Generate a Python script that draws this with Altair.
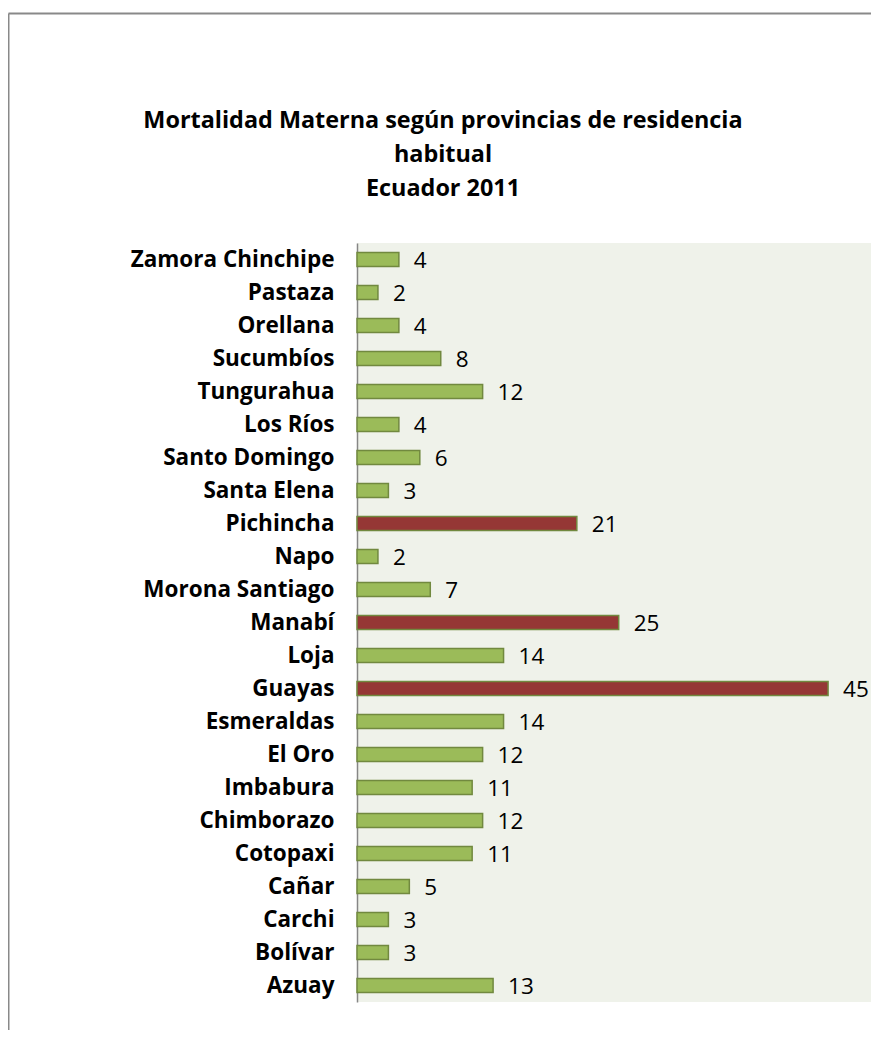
import altair as alt
import pandas as pd

provinces = ["Zamora Chinchipe", "Pastaza", "Orellana", "Sucumbíos", "Tungurahua",
             "Los Ríos", "Santo Domingo", "Santa Elena", "Pichincha", "Napo",
             "Morona Santiago", "Manabí", "Loja", "Guayas", "Esmeraldas", "El Oro",
             "Imbabura", "Chimborazo", "Cotopaxi", "Cañar", "Carchi", "Bolívar", "Azuay"]
deaths = [4, 2, 4, 8, 12, 4, 6, 3, 21, 2, 7, 25, 14, 45, 14, 12, 11, 12, 11, 5, 3, 3, 13]
highlighted = ["Pichincha", "Manabí", "Guayas"]
title_lines = ["Mortalidad Materna según provincias de residencia", "habitual", "Ecuador 2011"]

df = pd.DataFrame({"provincia": provinces, "muertes": deaths})
df["destacado"] = df["provincia"].isin(highlighted)

FONT = "Open Sans"
W, H = 514, 759

y_enc = alt.Y("provincia:N", sort=provinces,
              scale=alt.Scale(paddingInner=0.58, paddingOuter=0.29),
              axis=alt.Axis(title=None, ticks=False, labelFont=FONT, labelFontWeight="bold",
                            labelFontSize=22.5, labelColor="#000000", labelPadding=23,
                            labelLimit=340,
                            domainColor="#868686", domainWidth=1.5, grid=False))
x_enc = alt.X("muertes:Q", scale=alt.Scale(domain=[0, 49.1], nice=False),
              axis=None)

base = alt.Chart(df)

bars = base.mark_bar(stroke="#71893f", strokeWidth=1.5).encode(
    x=x_enc, y=y_enc,
    fill=alt.condition("datum.destacado", alt.value("#953735"), alt.value("#9bbb59")),
)

labels = base.mark_text(align="left", baseline="middle", dx=15, dy=1, font=FONT,
                        fontSize=22.5, color="#000000").encode(
    x=x_enc, y=alt.Y("provincia:N", sort=provinces), text="muertes:Q")

one = pd.DataFrame({"k": [0]})
title = alt.Chart(one).mark_text(text=title_lines, align="center", baseline="alphabetic",
                                 lineHeight=34, font=FONT, fontSize=23.4, fontWeight="bold",
                                 color="#000000").encode(x=alt.value(86), y=alt.value(-115))

frame_top = alt.Chart(one).mark_rule(color="#898989", strokeWidth=2).encode(
    x=alt.value(-348.5), x2=alt.value(W + 10), y=alt.value(-229.5))
frame_left = alt.Chart(one).mark_rule(color="#898989", strokeWidth=2).encode(
    x=alt.value(-348.5), y=alt.value(-229.5), y2=alt.value(H + 40))

chart = alt.layer(bars, labels, title, frame_top, frame_left).properties(
    width=W, height=H,
    autosize=alt.AutoSizeParams(type="none"),
    padding={"left": 349, "top": 235, "right": 0, "bottom": 28},
).configure(background="#ffffff", view=alt.ViewConfig(fill="#eff2ea", strokeWidth=0))

chart.save("out.html", embed_options={"renderer": "svg", "actions": False})
